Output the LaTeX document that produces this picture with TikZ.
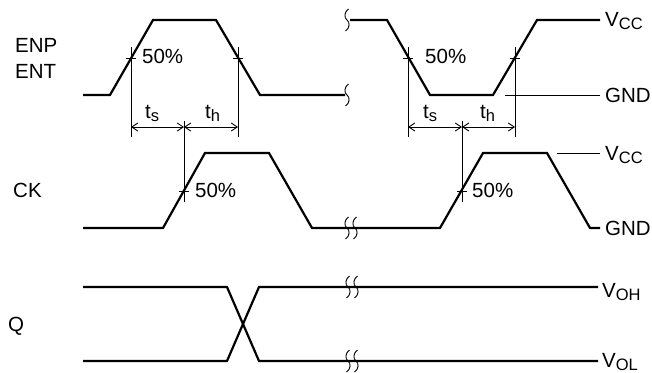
\documentclass[tikz,border=0pt]{standalone}
\usepackage{fontspec}
\setmainfont{Liberation Sans}
\usetikzlibrary{arrows.meta}
\newcommand\lsub[1]{\raisebox{-3pt}{\fontsize{16.5}{17}\selectfont #1}}
\begin{document}
\begin{tikzpicture}[x=1pt,y=-1pt,
  sig/.style={line width=2.2pt},
  thinl/.style={line width=0.9pt},
  dim/.style={thinl,{Straight Barb[length=6pt,width=8pt]}-{Straight Barb[length=6pt,width=8pt]}},
  lab/.style={font=\fontsize{20.5}{23}\selectfont,inner sep=0pt},
  brk/.pic={\draw[line width=0.9pt] (1.5,-11) .. controls (-3,-8) and (-3,-2) .. (0,0) .. controls (3,2) and (3,8) .. (-1.5,11);}
]
\useasboundingbox (0,0) rectangle (652,372);

% ---- ENP / ENT ----
\draw[sig] (83,95) -- (110,95) -- (153,20) -- (216,20) -- (260,95) -- (345,95);
\draw[sig] (350,20) -- (387,20) -- (430,95) -- (493,95) -- (537,20) -- (600,20);
\pic at (347,20) {brk};
\pic at (347,95) {brk};
\draw[thinl] (505,95) -- (600,95);

% ---- CK ----
\draw[sig] (83,228) -- (163,228) -- (205,153) -- (269,153) -- (312,228) -- (440,228)
  -- (483,153) -- (547,153) -- (590,228) -- (600,228);
\pic at (347,228) {brk};
\pic at (355,228) {brk};
\draw[thinl] (557,153) -- (600,153);

% ---- Q ----
\draw[sig] (83,287) -- (227,287) -- (259,361) -- (598,361);
\draw[sig] (83,361) -- (227,361) -- (259,287) -- (598,287);
\foreach \yy in {287,361}{\pic at (348,\yy) {brk}; \pic at (356,\yy) {brk};}

% ---- crossings ----
\coordinate (A1) at (131,58);
\coordinate (A2) at (238,58);
\coordinate (B1) at (408,58);
\coordinate (B2) at (515,58);
\coordinate (C1) at (184,191);
\coordinate (C2) at (462,191);

\foreach \p in {A1,A2,B1,B2}{
  \draw[thinl] ([xshift=-5pt]\p) -- ([xshift=5pt]\p);
  \draw[thinl] ([yshift=11pt]\p) -- ([yshift=-79pt]\p);
}
\foreach \p in {C1,C2}{
  \draw[thinl] ([xshift=-5pt]\p) -- ([xshift=5pt]\p);
  \draw[thinl] ([yshift=70pt]\p) -- ([yshift=-11pt]\p);
}

\coordinate (dA1) at (131,127);
\coordinate (dC1) at (184,127);
\coordinate (dA2) at (238,127);
\coordinate (dB1) at (408,127);
\coordinate (dC2) at (462,127);
\coordinate (dB2) at (515,127);
\draw[dim] (dA1) -- (dC1);
\draw[dim] (dC1) -- (dA2);
\draw[dim] (dB1) -- (dC2);
\draw[dim] (dC2) -- (dB2);

% ---- labels ----
\node[lab,anchor=base west] (enp) at (15,52) {ENP};
\node[lab,anchor=base west] (ent) at (15,78) {ENT};
\node[lab,anchor=base west] (ck) at (13,197) {CK};
\node[lab,anchor=base west] (q) at (8,331) {Q};

\node[lab,anchor=base west] (p1) at (142,63) {50\%};
\node[lab,anchor=base west] (p2) at (425,63) {50\%};
\node[lab,anchor=base west] (p3) at (195,197) {50\%};
\node[lab,anchor=base west] (p4) at (472,197) {50\%};

\node[lab,anchor=base west] (ts1) at (145,118) {t\lsub{s}};
\node[lab,anchor=base west] (th1) at (205,118) {t\lsub{h}};
\node[lab,anchor=base west] (ts2) at (423,118) {t\lsub{s}};
\node[lab,anchor=base west] (th2) at (480,118) {t\lsub{h}};

\node[lab,anchor=base west] (vcc1) at (605,26) {V\lsub{CC}};
\node[lab,anchor=base west] (gnd1) at (605,102) {GND};
\node[lab,anchor=base west] (vcc2) at (605,160) {V\lsub{CC}};
\node[lab,anchor=base west] (gnd2) at (605,235) {GND};
\node[lab,anchor=base west] (voh) at (602,297) {V\lsub{OH}};
\node[lab,anchor=base west] (vol) at (602,367) {V\lsub{OL}};
\end{tikzpicture}
\end{document}
